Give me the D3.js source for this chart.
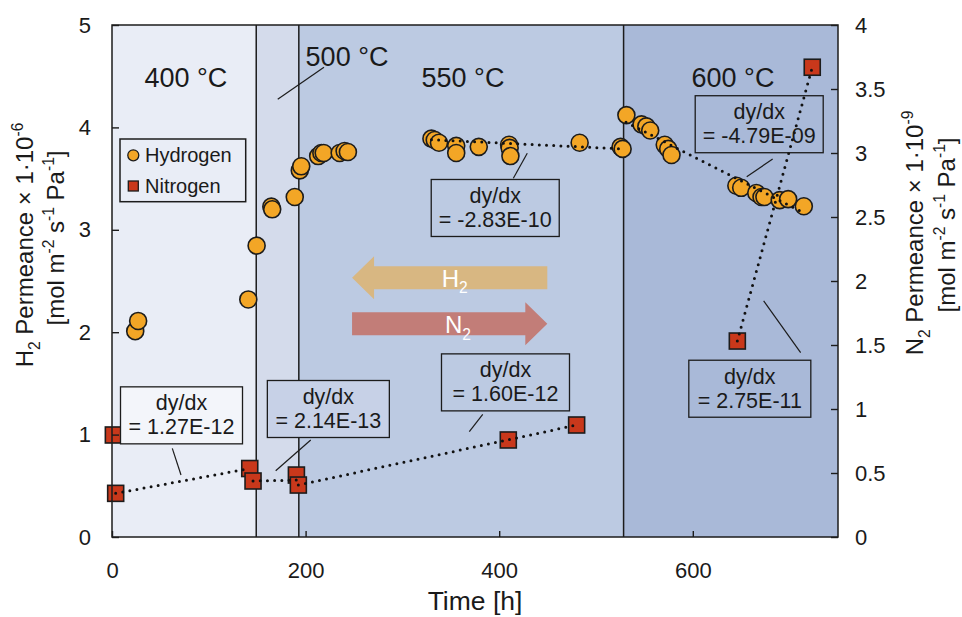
<!DOCTYPE html>
<html><head><meta charset="utf-8">
<script src="https://cdn.jsdelivr.net/npm/d3@7"></script>
<style>
body{margin:0;background:#fff}
svg{display:block}
text{font-family:Arial,"Liberation Sans",sans-serif;fill:#1a1a1a}
</style>
</head><body>
<svg id="chart" width="962" height="617"></svg>
<script>
// ---------------- data ----------------
const hydrogenTime = [24, 27, 140.8, 149.4, 164.6, 165.5, 188.8, 194, 195.5,
  213, 216.3, 218.7, 235.2, 240.3, 243.7,
  330, 333.4, 337.8, 355.6, 355.6, 378.9, 410.2, 410.8, 411.6, 483.1, 525.4, 527.5,
  531.4, 547, 552, 556, 571, 574.6, 578,
  645, 650, 665.6, 671, 674, 689.8, 698.5, 714.7];
const hydrogenPermeance = [2.01, 2.11, 2.32, 2.845, 3.226, 3.2, 3.32, 3.58, 3.62,
  3.72, 3.75, 3.75, 3.75, 3.77, 3.76,
  3.89, 3.877, 3.85, 3.82, 3.75, 3.81, 3.83, 3.80, 3.72, 3.85, 3.81, 3.79,
  4.12, 4.03, 4.01, 3.97, 3.83, 3.79, 3.73,
  3.43, 3.41, 3.36, 3.32, 3.32, 3.29, 3.30, 3.23];
const nitrogenTime = [1.4, 3.8, 142.3, 145.7, 190.5, 192.5, 409.4, 480, 646, 723.4];
const nitrogenPermeance = [0.797, 0.341, 0.535, 0.4375, 0.484, 0.406, 0.758, 0.875, 1.531, 3.67];

const xTicks = [0, 200, 400, 600];
const leftTicks = [0, 1, 2, 3, 4, 5];
const rightTicks = [0, 0.5, 1, 1.5, 2, 2.5, 3, 3.5, 4];
const rightTickLabels = ["0", "0.5", "1", "1.5", "2", "2.5", "3", "3.5", "4"];

const stageStart = [0, 149, 193, 528.5];
const stageEnd = [149, 193, 528.5, 750];
const stageLabels = ["400 °C", "500 °C", "550 °C", "600 °C"];

// trendlines (start/end in hours and permeance on the series' own axis)
const trendSeries = ["N2", "N2", "N2", "N2", "H2", "H2"];
const trendStartTime = [3.8, 145.7, 192.5, 646, 330, 531];
const trendStartValue = [0.341, 0.4375, 0.406, 1.531, 3.88, 4.05];
const trendEndTime = [142.3, 192.5, 480, 723.4, 527.5, 716];
const trendEndValue = [0.535, 0.445, 0.875, 3.67, 3.79, 3.16];
const slopeLabels = ["= 1.27E-12", "= 2.14E-13", "= 1.60E-12", "= 2.75E-11", "= -2.83E-10", "= -4.79E-09"];

// ---------------- layout ----------------
const plot = {left: 112, right: 838, top: 25, bottom: 537};
const colors = {
  stage: ["#e9edf6", "#d4dbeb", "#bccae2", "#a9b9d8"],
  hydrogen: "#f3a626", nitrogen: "#c9381b", stroke: "#1c1c1c",
  arrowH2: "#d8b782", arrowN2: "#c27d78"
};

// callout layout: box centre (hours, left-axis units), leader from/to (hours, left-axis units), fill
const callouts = [
  {cx: 71.8, cy: 1.188, l: [62.3, 0.866, 71.3, 0.605], fill: "#f3f5fa", w: 122},
  {cx: 223.5, cy: 1.25, l: [205.3, 0.947, 169.1, 0.647], fill: "#c7d1e7", w: 122},
  {cx: 406.5, cy: 1.51, l: [383, 1.198, 369.1, 1.028], fill: "none", w: 128},
  {cx: 658.9, cy: 1.448, l: [673.2, 2.305, 711.4, 1.80], fill: "none", w: 122},
  {cx: 395.9, cy: 3.213, l: [429, 3.747, 414.6, 3.503], fill: "none", w: 128},
  {cx: 668.6, cy: 4.031, l: [682.5, 3.691, 655.7, 3.519], fill: "none", w: 128}
];
const stageLabelPos = [[76.4, 4.395], [242.8, 4.6], [362.6, 4.395], [641.5, 4.395]];
const stage500Leader = [219, 4.587, 171.2, 4.274];

const svg = d3.select("#chart");
const x = d3.scaleLinear().domain([0, 750]).range([plot.left, plot.right]);
const yL = d3.scaleLinear().domain([0, 5]).range([plot.bottom, plot.top]);
const yR = d3.scaleLinear().domain([0, 4]).range([plot.bottom, plot.top]);

function richText(sel, parts, fs) {
  let shift = 0;
  parts.forEach(p => {
    const target = p.sub ? fs * 0.28 : p.sup ? -fs * 0.42 : 0;
    sel.append("tspan").attr("dy", target - shift)
      .attr("font-size", (p.sub || p.sup) ? fs * 0.65 : fs).text(p.t);
    shift = target;
  });
}

// stage backgrounds
svg.append("g").selectAll("rect").data(stageStart).join("rect")
  .attr("x", (d) => x(d)).attr("y", plot.top)
  .attr("width", (d, i) => x(stageEnd[i]) - x(d))
  .attr("height", plot.bottom - plot.top)
  .attr("fill", (d, i) => colors.stage[i]);

// stage dividers
svg.append("g").selectAll("line").data(stageStart.slice(1)).join("line")
  .attr("x1", d => x(d)).attr("x2", d => x(d))
  .attr("y1", plot.top).attr("y2", plot.bottom)
  .attr("stroke", colors.stroke).attr("stroke-width", 1.5);

// stage labels
svg.append("g").selectAll("text").data(stageLabels).join("text")
  .attr("x", (d, i) => x(stageLabelPos[i][0])).attr("y", (d, i) => yL(stageLabelPos[i][1]))
  .attr("text-anchor", "middle").attr("font-size", 27).text(d => d);
svg.append("line")
  .attr("x1", x(stage500Leader[0])).attr("y1", yL(stage500Leader[1]))
  .attr("x2", x(stage500Leader[2])).attr("y2", yL(stage500Leader[3]))
  .attr("stroke", colors.stroke).attr("stroke-width", 1.2);

// arrows
const aY1 = yL(2.532), aY2 = yL(2.082);
const shaftH = 11.5, headH = 21.5, headL = 22;
const xa0 = x(248), xa1 = x(449.7);
svg.append("path").attr("fill", colors.arrowH2)
  .attr("d", `M${xa0},${aY1} L${xa0 + headL},${aY1 - headH} L${xa0 + headL},${aY1 - shaftH} L${xa1},${aY1 - shaftH} L${xa1},${aY1 + shaftH} L${xa0 + headL},${aY1 + shaftH} L${xa0 + headL},${aY1 + headH} Z`);
svg.append("path").attr("fill", colors.arrowN2)
  .attr("d", `M${xa1},${aY2} L${xa1 - headL},${aY2 - headH} L${xa1 - headL},${aY2 - shaftH} L${xa0},${aY2 - shaftH} L${xa0},${aY2 + shaftH} L${xa1 - headL},${aY2 + shaftH} L${xa1 - headL},${aY2 + headH} Z`);
const tH2 = svg.append("text").attr("x", x(340.6)).attr("y", aY1 + 9).style("fill", "#fff");
richText(tH2, [{t: "H"}, {t: "2", sub: true}], 24);
const tN2 = svg.append("text").attr("x", x(343.9)).attr("y", aY2 + 9.5).style("fill", "#fff");
richText(tN2, [{t: "N"}, {t: "2", sub: true}], 24);

// hydrogen markers
svg.append("g").selectAll("circle").data(hydrogenTime).join("circle")
  .attr("cx", d => x(d)).attr("cy", (d, i) => yL(hydrogenPermeance[i]))
  .attr("r", 8.5).attr("fill", colors.hydrogen)
  .attr("stroke", colors.stroke).attr("stroke-width", 1.6);

// nitrogen markers
const sq = 16;
svg.append("g").selectAll("rect").data(nitrogenTime).join("rect")
  .attr("x", d => x(d) - sq / 2).attr("y", (d, i) => yR(nitrogenPermeance[i]) - sq / 2)
  .attr("width", sq).attr("height", sq).attr("fill", colors.nitrogen)
  .attr("stroke", colors.stroke).attr("stroke-width", 1.6);

// trendlines
svg.append("g").selectAll("line").data(trendSeries).join("line")
  .attr("x1", (d, i) => x(trendStartTime[i]))
  .attr("y1", (d, i) => (d === "N2" ? yR : yL)(trendStartValue[i]))
  .attr("x2", (d, i) => x(trendEndTime[i]))
  .attr("y2", (d, i) => (d === "N2" ? yR : yL)(trendEndValue[i]))
  .attr("stroke", "#111").attr("stroke-width", 3)
  .attr("stroke-linecap", "round").attr("stroke-dasharray", "0 7.2");

// callouts
const boxH = 57;
const cg = svg.append("g").selectAll("g").data(callouts).join("g");
cg.append("line")
  .attr("x1", d => x(d.l[0])).attr("y1", d => yL(d.l[1]))
  .attr("x2", d => x(d.l[2])).attr("y2", d => yL(d.l[3]))
  .attr("stroke", colors.stroke).attr("stroke-width", 1.2);
cg.append("rect")
  .attr("x", d => x(d.cx) - d.w / 2).attr("y", d => yL(d.cy) - boxH / 2)
  .attr("width", d => d.w).attr("height", boxH)
  .attr("fill", d => d.fill).attr("stroke", colors.stroke).attr("stroke-width", 1.3);
cg.append("text").attr("x", d => x(d.cx)).attr("y", d => yL(d.cy) - 5)
  .attr("text-anchor", "middle").attr("font-size", 21.5).text("dy/dx");
cg.append("text").attr("x", d => x(d.cx)).attr("y", d => yL(d.cy) + 19)
  .attr("text-anchor", "middle").attr("font-size", 21.5).text((d, i) => slopeLabels[i]);

// legend
const lg = svg.append("g");
lg.append("rect").attr("x", 120).attr("y", 139).attr("width", 125.7).attr("height", 62.7)
  .attr("fill", "none").attr("stroke", colors.stroke).attr("stroke-width", 1.5);
lg.append("circle").attr("cx", 133.3).attr("cy", 155.3).attr("r", 5.5)
  .attr("fill", colors.hydrogen).attr("stroke", colors.stroke).attr("stroke-width", 1.3);
lg.append("rect").attr("x", 128.3).attr("y", 181).attr("width", 10).attr("height", 10)
  .attr("fill", colors.nitrogen).attr("stroke", colors.stroke).attr("stroke-width", 1.3);
lg.append("text").attr("x", 145).attr("y", 162).attr("font-size", 20).text("Hydrogen");
lg.append("text").attr("x", 145).attr("y", 193).attr("font-size", 20).text("Nitrogen");

// plot border
svg.append("rect").attr("x", plot.left).attr("y", plot.top)
  .attr("width", plot.right - plot.left).attr("height", plot.bottom - plot.top)
  .attr("fill", "none").attr("stroke", colors.stroke).attr("stroke-width", 1.5);

// axes
function styleAxis(g) {
  g.select(".domain").remove();
  g.selectAll(".tick line").attr("stroke", colors.stroke).attr("stroke-width", 1.4);
  g.selectAll(".tick text").attr("font-size", 22).style("fill", "#1a1a1a");
}
svg.append("g").attr("transform", `translate(${plot.left},0)`)
  .call(d3.axisLeft(yL).tickValues(leftTicks).tickSizeInner(-7).tickSizeOuter(0).tickPadding(21).tickFormat(d3.format("d")))
  .call(styleAxis).attr("font-family", null);
svg.append("g").attr("transform", `translate(${plot.right},0)`)
  .call(d3.axisRight(yR).tickValues(rightTicks).tickSizeInner(-7).tickSizeOuter(0).tickPadding(17).tickFormat((d, i) => rightTickLabels[i]))
  .call(styleAxis).attr("font-family", null);
svg.append("g").attr("transform", `translate(0,${plot.bottom})`)
  .call(d3.axisBottom(x).tickValues(xTicks).tickSizeInner(-6).tickSizeOuter(0).tickPadding(25).tickFormat(d3.format("d")))
  .call(styleAxis).attr("font-family", null);

// axis titles
svg.append("text").attr("x", 475).attr("y", 610).attr("text-anchor", "middle")
  .attr("font-size", 26.5).text("Time [h]");

const lt1 = svg.append("text").attr("transform", "translate(33,245) rotate(-90)").attr("text-anchor", "middle");
richText(lt1, [{t: "H"}, {t: "2", sub: true}, {t: " Permeance × 1·10"}, {t: "-6", sup: true}], 24);
const lt2 = svg.append("text").attr("transform", "translate(64,238) rotate(-90)").attr("text-anchor", "middle");
richText(lt2, [{t: "[mol m"}, {t: "-2", sup: true}, {t: " s"}, {t: "-1", sup: true}, {t: " Pa"}, {t: "-1", sup: true}, {t: "]"}], 24);

const rt1 = svg.append("text").attr("transform", "translate(923,233) rotate(-90)").attr("text-anchor", "middle");
richText(rt1, [{t: "N"}, {t: "2", sub: true}, {t: " Permeance × 1·10"}, {t: "-9", sup: true}], 24);
const rt2 = svg.append("text").attr("transform", "translate(955,225) rotate(-90)").attr("text-anchor", "middle");
richText(rt2, [{t: "[mol m"}, {t: "-2", sup: true}, {t: " s"}, {t: "-1", sup: true}, {t: " Pa"}, {t: "-1", sup: true}, {t: "]"}], 24);
</script>
</body></html>
